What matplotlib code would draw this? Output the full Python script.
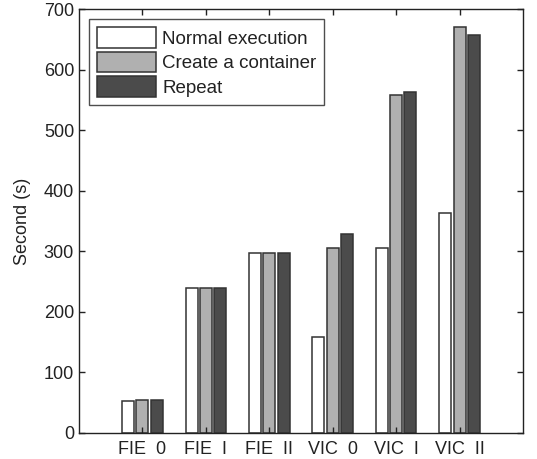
import matplotlib
matplotlib.use("Agg")
import matplotlib.pyplot as plt
import numpy as np

# ── data ──────────────────────────────────────────────────────────────────────
categories = ["FIE  0", "FIE  I", "FIE  II", "VIC  0", "VIC  I", "VIC  II"]
series_names = ["Normal execution", "Create a container", "Repeat"]
normal_exec = [52, 240, 297, 158, 306, 363]
create_cont = [54, 240, 297, 306, 559, 671]
repeat_run = [54, 240, 297, 329, 563, 657]
y_ticks = [0, 100, 200, 300, 400, 500, 600, 700]

COLORS = ["#ffffff", "#b0b0b0", "#4b4b4b"]
TEXT = "#222222"

plt.rcParams.update({
    "font.family": ["Liberation Sans", "DejaVu Sans"],
    "font.size": 13,
    "text.color": TEXT,
    "xtick.color": TEXT,
    "ytick.color": TEXT,
    "axes.labelcolor": TEXT,
})

fig = plt.figure(figsize=(5.37, 4.59), dpi=100)
ax = fig.add_axes([0.147, 0.057, 0.827, 0.923])

x = np.arange(1, len(categories) + 1)
width = 0.19
offsets = [-0.225, 0.0, 0.225]
for vals, off, col, name in zip([normal_exec, create_cont, repeat_run],
                                offsets, COLORS, series_names):
    ax.bar(x + off, vals, width, color=col, edgecolor="#333333",
           linewidth=1.1, label=name)

ax.set_xlim(0, 7)
ax.set_ylim(0, 700)
ax.set_xticks(x)
ax.set_xticklabels(categories, fontsize=13)
ax.set_yticks(y_ticks)
ax.tick_params(axis="y", labelsize=13)
ax.tick_params(axis="x", pad=6)
ax.set_ylabel("Second (s)", fontsize=13, labelpad=9)

ax.tick_params(direction="in", top=True, right=True, length=4, width=1)
for sp in ax.spines.values():
    sp.set_linewidth(1.0)
    sp.set_color("#222222")

leg = ax.legend(loc="upper left", bbox_to_anchor=(0.0225, 0.976),
                frameon=True, fancybox=False, edgecolor="#222222",
                handlelength=3.15, handleheight=1.3, handletextpad=0.34,
                labelspacing=0.22, borderpad=0.42, borderaxespad=0.0,
                fontsize=13.5)
leg.get_frame().set_linewidth(1.0)

fig.savefig("out.png", dpi=100)
